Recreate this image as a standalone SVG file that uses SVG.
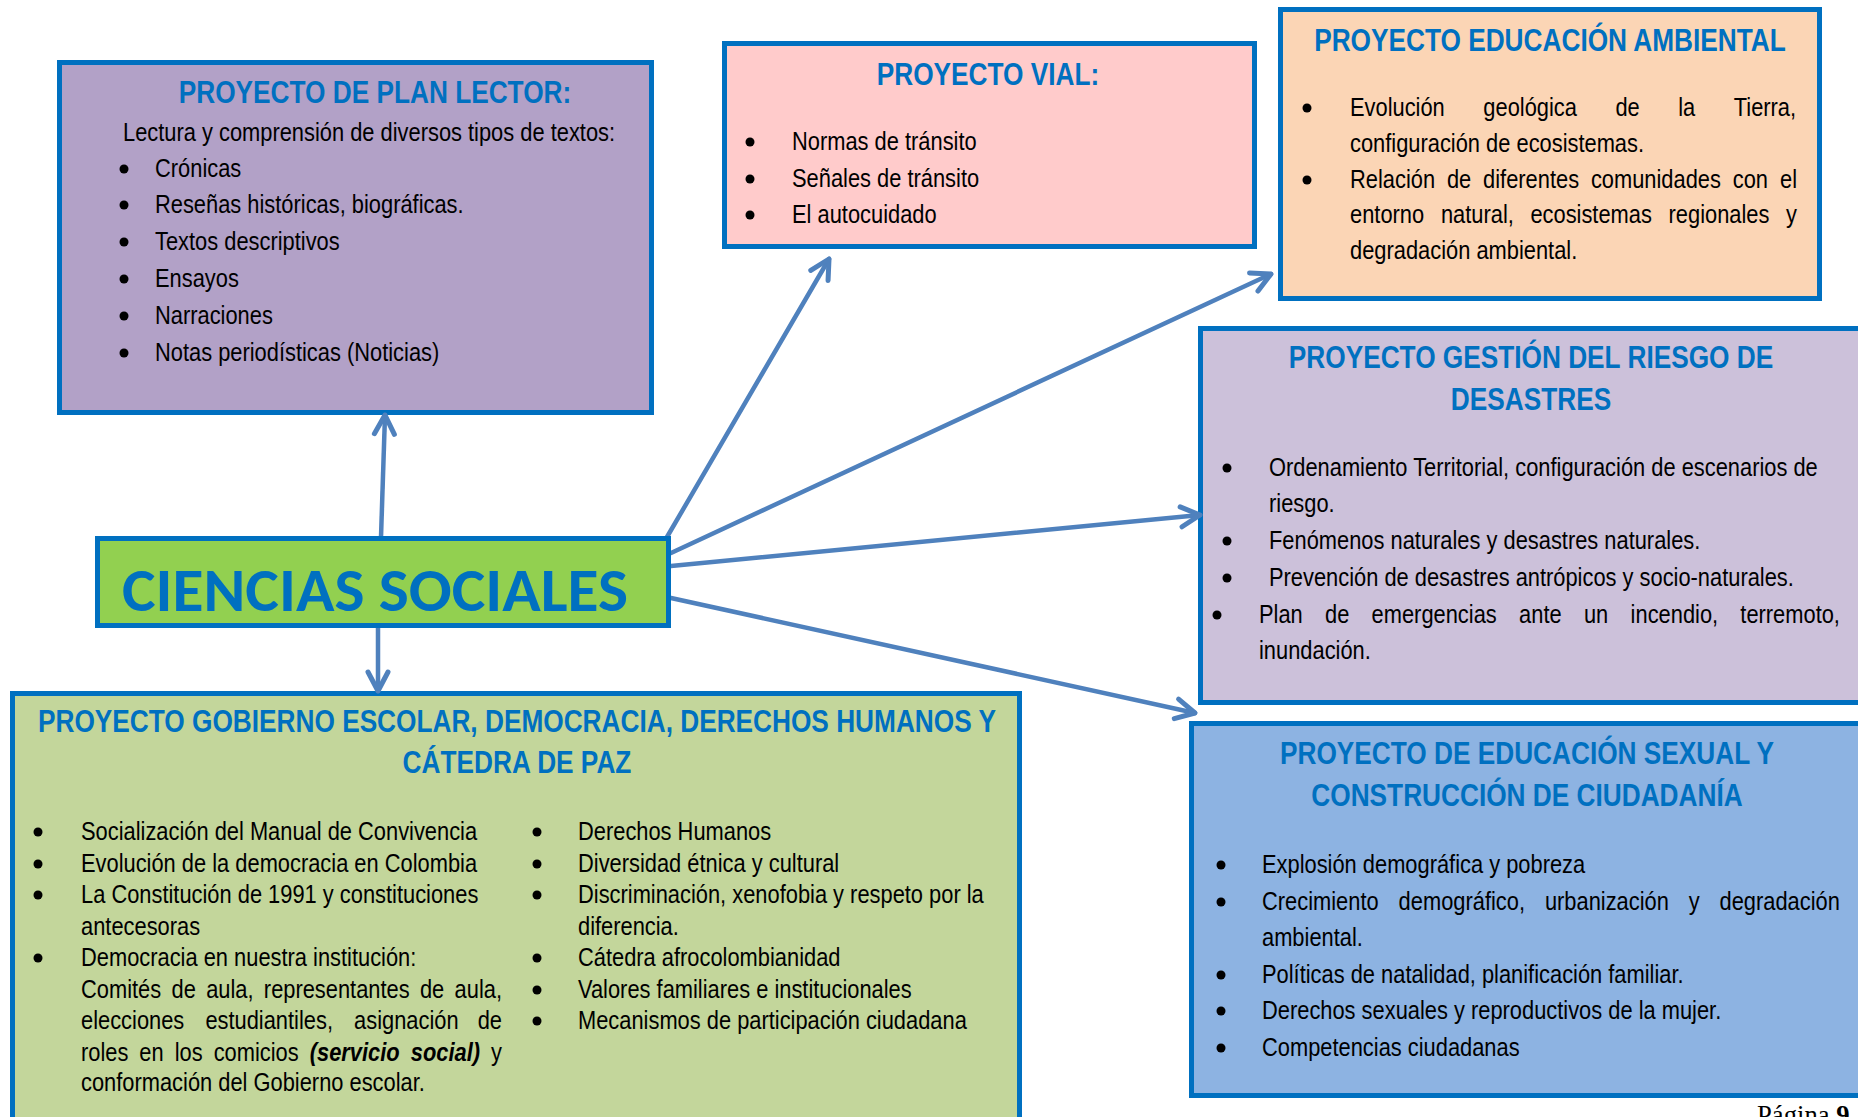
<svg xmlns="http://www.w3.org/2000/svg" width="1858" height="1117" viewBox="0 0 1858 1117">
<defs>
<style>
.t{font-family:'Liberation Sans',Arial,sans-serif;font-size:26.67px;fill:#000}
.h{font-family:'Liberation Sans',Arial,sans-serif;font-size:32px;font-weight:bold;fill:#0070C0;text-anchor:middle}
.box{stroke:#0070C0;stroke-width:5}
.c{stroke:#4F81BD;stroke-width:4.5;fill:none;stroke-linecap:round;marker-end:url(#ah)}
.bi{font-weight:bold;font-style:italic}
</style>
<marker id="ah" markerUnits="userSpaceOnUse" markerWidth="50" markerHeight="50" viewBox="-30 -25 50 50" refX="0" refY="0" orient="auto" overflow="visible">
<path d="M-19,-10 L0,0 L-19,10" fill="none" stroke="#4F81BD" stroke-width="5" stroke-linecap="round" stroke-linejoin="round"/>
</marker>
</defs>
<rect width="1858" height="1117" fill="#fff"/>

<g id="plan-lector">
<rect class="box" x="59.5" y="62.5" width="592" height="350" fill="#B2A1C7"/>
<text class="h" transform="matrix(0.82,0,0,1,375,0)" x="0" y="103">PROYECTO DE PLAN LECTOR:</text>
<text class="t" transform="matrix(0.82,0,0,1,123,0)" x="0" y="141">Lectura y comprensión de diversos tipos de textos:</text>
<g fill="#000"><circle cx="124" cy="169" r="4.5"/><circle cx="124" cy="205" r="4.5"/><circle cx="124" cy="242" r="4.5"/><circle cx="124" cy="279" r="4.5"/><circle cx="124" cy="316" r="4.5"/><circle cx="124" cy="353" r="4.5"/></g>
<g transform="matrix(0.82,0,0,1,155,0)">
<text class="t" x="0" y="177">Crónicas</text>
<text class="t" x="0" y="213">Reseñas históricas, biográficas.</text>
<text class="t" x="0" y="250">Textos descriptivos</text>
<text class="t" x="0" y="287">Ensayos</text>
<text class="t" x="0" y="324">Narraciones</text>
<text class="t" x="0" y="361">Notas periodísticas (Noticias)</text>
</g>
</g>

<g id="vial">
<rect class="box" x="724.5" y="43.5" width="530" height="203" fill="#FFCBCB"/>
<text class="h" transform="matrix(0.82,0,0,1,988,0)" x="0" y="85">PROYECTO VIAL:</text>
<g fill="#000"><circle cx="750" cy="142" r="4.5"/><circle cx="750" cy="179" r="4.5"/><circle cx="750" cy="215" r="4.5"/></g>
<g transform="matrix(0.82,0,0,1,792,0)">
<text class="t" x="0" y="150">Normas de tránsito</text>
<text class="t" x="0" y="187">Señales de tránsito</text>
<text class="t" x="0" y="223">El autocuidado</text>
</g>
</g>

<g id="ambiental">
<rect class="box" x="1280.5" y="9.5" width="539" height="289" fill="#FBD5B5"/>
<text class="h" transform="matrix(0.82,0,0,1,1550,0)" x="0" y="51">PROYECTO EDUCACIÓN AMBIENTAL</text>
<g fill="#000"><circle cx="1307" cy="108" r="4.5"/><circle cx="1307" cy="180" r="4.5"/></g>
<g transform="matrix(0.82,0,0,1,1350,0)">
<text class="t" y="116"><tspan x="0">Evolución</tspan><tspan x="162.6">geológica</tspan><tspan x="323.7">de</tspan><tspan x="400.2">la</tspan><tspan x="468">Tierra,</tspan></text>
<text class="t" x="0" y="152">configuración de ecosistemas.</text>
<text class="t" y="188"><tspan x="0">Relación</tspan><tspan x="118.2">de</tspan><tspan x="162.3">diferentes</tspan><tspan x="293.8">comunidades</tspan><tspan x="466.8">con</tspan><tspan x="524.4">el</tspan></text>
<text class="t" y="223"><tspan x="0">entorno</tspan><tspan x="110.9">natural,</tspan><tspan x="220">ecosistemas</tspan><tspan x="388.5">regionales</tspan><tspan x="531.8">y</tspan></text>
<text class="t" x="0" y="259">degradación ambiental.</text>
</g>
</g>

<g id="gestion-riesgo">
<rect class="box" x="1200.5" y="328.5" width="700" height="374" fill="#CCC1DA"/>
<text class="h" transform="matrix(0.82,0,0,1,1531,0)" x="0" y="368">PROYECTO GESTIÓN DEL RIESGO DE</text>
<text class="h" transform="matrix(0.82,0,0,1,1531,0)" x="0" y="410">DESASTRES</text>
<g fill="#000"><circle cx="1227" cy="468" r="4.5"/><circle cx="1227" cy="541" r="4.5"/><circle cx="1227" cy="578" r="4.5"/><circle cx="1217" cy="615" r="4.5"/></g>
<g transform="matrix(0.82,0,0,1,1269,0)">
<text class="t" x="0" y="476">Ordenamiento Territorial, configuración de escenarios de</text>
<text class="t" x="0" y="512">riesgo.</text>
<text class="t" x="0" y="549">Fenómenos naturales y desastres naturales.</text>
<text class="t" x="0" y="586">Prevención de desastres antrópicos y socio-naturales.</text>
</g>
<g transform="matrix(0.82,0,0,1,1259,0)">
<text class="t" y="623"><tspan x="0">Plan</tspan><tspan x="80.6">de</tspan><tspan x="137.3">emergencias</tspan><tspan x="317.2">ante</tspan><tspan x="396.3">un</tspan><tspan x="453.2">incendio,</tspan><tspan x="587">terremoto,</tspan></text>
<text class="t" x="0" y="659">inundación.</text>
</g>
</g>

<g id="educacion-sexual">
<rect class="box" x="1191.5" y="723.5" width="700" height="372" fill="#8DB3E2"/>
<text class="h" transform="matrix(0.82,0,0,1,1527,0)" x="0" y="764">PROYECTO DE EDUCACIÓN SEXUAL Y</text>
<text class="h" transform="matrix(0.82,0,0,1,1527,0)" x="0" y="806">CONSTRUCCIÓN DE CIUDADANÍA</text>
<g fill="#000"><circle cx="1221" cy="865" r="4.5"/><circle cx="1221" cy="902" r="4.5"/><circle cx="1221" cy="975" r="4.5"/><circle cx="1221" cy="1011" r="4.5"/><circle cx="1221" cy="1048" r="4.5"/></g>
<g transform="matrix(0.82,0,0,1,1262,0)">
<text class="t" x="0" y="873">Explosión demográfica y pobreza</text>
<text class="t" y="910"><tspan x="0">Crecimiento</tspan><tspan x="166.6">demográfico,</tspan><tspan x="345">urbanización</tspan><tspan x="520.5">y</tspan><tspan x="558">degradación</tspan></text>
<text class="t" x="0" y="946">ambiental.</text>
<text class="t" x="0" y="983">Políticas de natalidad, planificación familiar.</text>
<text class="t" x="0" y="1019">Derechos sexuales y reproductivos de la mujer.</text>
<text class="t" x="0" y="1056">Competencias ciudadanas</text>
</g>
</g>

<g id="gobierno-escolar">
<rect class="box" x="12.5" y="693.5" width="1007" height="500" fill="#C3D69B"/>
<text class="h" transform="matrix(0.82,0,0,1,517,0)" x="0" y="732">PROYECTO GOBIERNO ESCOLAR, DEMOCRACIA, DERECHOS HUMANOS Y</text>
<text class="h" transform="matrix(0.82,0,0,1,517,0)" x="0" y="773">CÁTEDRA DE PAZ</text>
<g fill="#000"><circle cx="38" cy="832" r="4.5"/><circle cx="38" cy="864" r="4.5"/><circle cx="38" cy="895" r="4.5"/><circle cx="38" cy="958" r="4.5"/>
<circle cx="537" cy="832" r="4.5"/><circle cx="537" cy="864" r="4.5"/><circle cx="537" cy="895" r="4.5"/><circle cx="537" cy="958" r="4.5"/><circle cx="537" cy="990" r="4.5"/><circle cx="537" cy="1021" r="4.5"/></g>
<g transform="matrix(0.82,0,0,1,81,0)">
<text class="t" x="0" y="840">Socialización del Manual de Convivencia</text>
<text class="t" x="0" y="872">Evolución de la democracia en Colombia</text>
<text class="t" x="0" y="903">La Constitución de 1991 y constituciones</text>
<text class="t" x="0" y="935">antecesoras</text>
<text class="t" x="0" y="966">Democracia en nuestra institución:</text>
<text class="t" y="998"><tspan x="0">Comités</tspan><tspan x="110.4">de</tspan><tspan x="152.7">aula,</tspan><tspan x="223">representantes</tspan><tspan x="413.3">de</tspan><tspan x="455.6">aula,</tspan></text>
<text class="t" y="1029"><tspan x="0">elecciones</tspan><tspan x="151.7">estudiantiles,</tspan><tspan x="333">asignación</tspan><tspan x="483.8">de</tspan></text>
<text class="t" y="1061"><tspan x="0">roles</tspan><tspan x="71.2">en</tspan><tspan x="114.3">los</tspan><tspan x="161.8">comicios</tspan><tspan class="bi" x="279">(servicio</tspan><tspan class="bi" x="402.2">social)</tspan><tspan x="500.1">y</tspan></text>
<text class="t" x="0" y="1091">conformación del Gobierno escolar.</text>
</g>
<g transform="matrix(0.82,0,0,1,578,0)">
<text class="t" x="0" y="840">Derechos Humanos</text>
<text class="t" x="0" y="872">Diversidad étnica y cultural</text>
<text class="t" x="0" y="903">Discriminación, xenofobia y respeto por la</text>
<text class="t" x="0" y="935">diferencia.</text>
<text class="t" x="0" y="966">Cátedra afrocolombianidad</text>
<text class="t" x="0" y="998">Valores familiares e institucionales</text>
<text class="t" x="0" y="1029">Mecanismos de participación ciudadana</text>
</g>
</g>

<g id="connectors">
<line class="c" x1="381" y1="537" x2="385" y2="415"/>
<line class="c" x1="378" y1="628" x2="378" y2="691"/>
<line class="c" x1="667" y1="537" x2="829" y2="259"/>
<line class="c" x1="671" y1="553" x2="1271" y2="274"/>
<line class="c" x1="671" y1="566" x2="1200" y2="515"/>
<line class="c" x1="671" y1="598" x2="1195" y2="713"/>
</g>

<g id="ciencias-sociales">
<rect class="box" x="97.5" y="538.5" width="571" height="87" fill="#92D050"/>
<text x="122" y="611" font-family="Carlito, Lato, 'Open Sans', sans-serif" font-weight="bold" font-size="61" fill="#0070C0" textLength="506" lengthAdjust="spacingAndGlyphs">CIENCIAS SOCIALES</text>
</g>

<text x="1757" y="1124" font-family="'Liberation Serif', serif" font-size="26.67" fill="#000">Página <tspan font-weight="bold">9</tspan></text>
</svg>
